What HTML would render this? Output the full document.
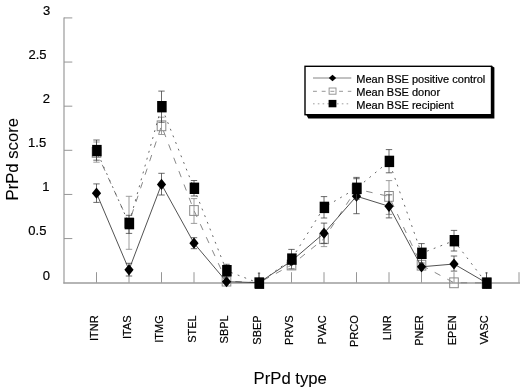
<!DOCTYPE html>
<html><head><meta charset="utf-8"><title>PrPd score by PrPd type</title>
<style>html,body{margin:0;padding:0;background:#fff}svg{display:block}text{font-family:"Liberation Sans",Arial,sans-serif;fill:#000;stroke:#000;stroke-width:.2px}.t{stroke-width:.08px}</style></head><body>
<svg width="520" height="388" viewBox="0 0 520 388">
<rect width="520" height="388" fill="#fff"/>
<g stroke="#969696" stroke-width="1.3" fill="none">
<line x1="64.0" y1="17.4" x2="64.0" y2="283.59999999999997" stroke-width="1.2" stroke="#9a9a9a"/>
<line x1="63.4" y1="283.0" x2="520" y2="283.0" stroke-width="1.5" stroke="#9c9c9c"/>
</g>
<g stroke="#969696" stroke-width="1" fill="none">
<line x1="64.0" y1="238.57" x2="72.3" y2="238.57"/>
<line x1="64.0" y1="194.44" x2="72.3" y2="194.44"/>
<line x1="64.0" y1="150.31" x2="72.3" y2="150.31"/>
<line x1="64.0" y1="106.18" x2="72.3" y2="106.18"/>
<line x1="64.0" y1="62.05" x2="72.3" y2="62.05"/>
<line x1="64.0" y1="17.92" x2="72.3" y2="17.92"/>
<line x1="96.50" y1="272.2" x2="96.50" y2="282.7"/>
<line x1="129.00" y1="272.2" x2="129.00" y2="282.7"/>
<line x1="161.50" y1="272.2" x2="161.50" y2="282.7"/>
<line x1="194.00" y1="272.2" x2="194.00" y2="282.7"/>
<line x1="226.50" y1="272.2" x2="226.50" y2="282.7"/>
<line x1="259.00" y1="272.2" x2="259.00" y2="282.7"/>
<line x1="291.50" y1="272.2" x2="291.50" y2="282.7"/>
<line x1="324.00" y1="272.2" x2="324.00" y2="282.7"/>
<line x1="356.50" y1="272.2" x2="356.50" y2="282.7"/>
<line x1="389.00" y1="272.2" x2="389.00" y2="282.7"/>
<line x1="421.50" y1="272.2" x2="421.50" y2="282.7"/>
<line x1="454.00" y1="272.2" x2="454.00" y2="282.7"/>
<line x1="486.50" y1="272.2" x2="486.50" y2="282.7"/>
<line x1="519.00" y1="272.2" x2="519.00" y2="282.7"/>
</g>
<g font-size="13" text-anchor="end">
<text x="50.2" y="14.7">3</text>
<text x="46.6" y="58.9">2.5</text>
<text x="50.0" y="102.8">2</text>
<text x="46.2" y="147.0">1.5</text>
<text x="49.5" y="191.2">1</text>
<text x="46.4" y="235.3">0.5</text>
<text x="50.0" y="279.5">0</text>
</g>
<text class="t" font-size="16.7" text-anchor="middle" transform="translate(17.9,159.2) rotate(-90)">PrPd score</text>
<text class="t" font-size="16.7" x="253.6" y="384.3">PrPd type</text>
<g font-size="11" text-anchor="end">
<text transform="translate(98.00,315.3) rotate(-90)">ITNR</text>
<text transform="translate(130.50,315.3) rotate(-90)">ITAS</text>
<text transform="translate(163.00,315.3) rotate(-90)">ITMG</text>
<text transform="translate(195.50,315.3) rotate(-90)">STEL</text>
<text transform="translate(228.00,315.3) rotate(-90)">SBPL</text>
<text transform="translate(260.50,315.3) rotate(-90)">SBEP</text>
<text transform="translate(293.00,315.3) rotate(-90)">PRVS</text>
<text transform="translate(325.50,315.3) rotate(-90)">PVAC</text>
<text transform="translate(358.00,315.3) rotate(-90)">PRCO</text>
<text transform="translate(390.50,315.3) rotate(-90)">LINR</text>
<text transform="translate(423.00,315.3) rotate(-90)">PNER</text>
<text transform="translate(455.50,315.3) rotate(-90)">EPEN</text>
<text transform="translate(488.00,315.3) rotate(-90)">VASC</text>
</g>
<g stroke="#8c8c8c" stroke-width="0.85" fill="none">
<path d="M96.50 142.00V162.20M93.30 142.00H99.70M93.30 162.20H99.70"/>
<path d="M129.00 196.30V249.30M125.80 196.30H132.20M125.80 249.30H132.20"/>
<path d="M161.50 117.20V134.50M158.30 117.20H164.70M158.30 134.50H164.70"/>
<path d="M194.00 198.60V223.40M190.80 198.60H197.20M190.80 223.40H197.20"/>
<path d="M324.00 231.00V246.60M320.80 231.00H327.20M320.80 246.60H327.20"/>
<path d="M389.00 180.60V214.40M385.80 180.60H392.20M385.80 214.40H392.20"/>
</g>
<polyline points="96.50,152.40 129.00,222.80 161.50,125.80 194.00,210.50 226.50,281.10 259.00,282.70 291.50,265.00 324.00,238.70 356.50,189.10 389.00,196.40 421.50,265.20 454.00,282.80 486.50,282.90" fill="none" stroke="#7a7a7a" stroke-width="0.9" stroke-dasharray="6.5 7.81" stroke-dashoffset="0.6"/>
<g fill="none" stroke="#8a8a8a" stroke-width="1">
<rect x="92.20" y="147.50" width="8.6" height="9.8"/>
<rect x="124.70" y="217.90" width="8.6" height="9.8"/>
<rect x="157.20" y="120.90" width="8.6" height="9.8"/>
<rect x="189.70" y="205.60" width="8.6" height="9.8"/>
<rect x="222.20" y="276.20" width="8.6" height="9.8"/>
<rect x="254.70" y="277.80" width="8.6" height="9.8"/>
<rect x="287.20" y="260.10" width="8.6" height="9.8"/>
<rect x="319.70" y="233.80" width="8.6" height="9.8"/>
<rect x="352.20" y="184.20" width="8.6" height="9.8"/>
<rect x="384.70" y="191.50" width="8.6" height="9.8"/>
<rect x="417.20" y="260.30" width="8.6" height="9.8"/>
<rect x="449.70" y="277.90" width="8.6" height="9.8"/>
<rect x="482.20" y="278.00" width="8.6" height="9.8"/>
</g>
<g stroke="#3a3a3a" stroke-width="0.75" fill="none">
<path d="M96.50 183.90V202.40M93.30 183.90H99.70M93.30 202.40H99.70"/>
<path d="M129.00 263.30V276.00M125.80 263.30H132.20M125.80 276.00H132.20"/>
<path d="M161.50 173.30V195.00M158.30 173.30H164.70M158.30 195.00H164.70"/>
<path d="M194.00 237.70V248.70M190.80 237.70H197.20M190.80 248.70H197.20"/>
<path d="M324.00 223.10V243.30M320.80 223.10H327.20M320.80 243.30H327.20"/>
<path d="M356.50 178.70V213.70M353.30 178.70H359.70M353.30 213.70H359.70"/>
<path d="M389.00 194.80V217.90M385.80 194.80H392.20M385.80 217.90H392.20"/>
<path d="M454.00 256.00V271.10M450.80 256.00H457.20M450.80 271.10H457.20"/>
</g>
<polyline points="96.50,193.20 129.00,269.80 161.50,184.40 194.00,243.20 226.50,281.70 259.00,282.70 291.50,261.00 324.00,233.20 356.50,196.20 389.00,206.30 421.50,266.80 454.00,264.00 486.50,282.90" fill="none" stroke="#333" stroke-width="0.85"/>
<g fill="#000">
<polygon points="96.50,187.60 101.10,193.20 96.50,198.80 91.90,193.20"/>
<polygon points="129.00,264.20 133.60,269.80 129.00,275.40 124.40,269.80"/>
<polygon points="161.50,178.80 166.10,184.40 161.50,190.00 156.90,184.40"/>
<polygon points="194.00,237.60 198.60,243.20 194.00,248.80 189.40,243.20"/>
<polygon points="226.50,276.10 231.10,281.70 226.50,287.30 221.90,281.70"/>
<polygon points="259.00,277.10 263.60,282.70 259.00,288.30 254.40,282.70"/>
<polygon points="291.50,255.40 296.10,261.00 291.50,266.60 286.90,261.00"/>
<polygon points="324.00,227.60 328.60,233.20 324.00,238.80 319.40,233.20"/>
<polygon points="356.50,190.60 361.10,196.20 356.50,201.80 351.90,196.20"/>
<polygon points="389.00,200.70 393.60,206.30 389.00,211.90 384.40,206.30"/>
<polygon points="421.50,261.20 426.10,266.80 421.50,272.40 416.90,266.80"/>
<polygon points="454.00,258.40 458.60,264.00 454.00,269.60 449.40,264.00"/>
<polygon points="486.50,277.30 491.10,282.90 486.50,288.50 481.90,282.90"/>
</g>
<g stroke="#3a3a3a" stroke-width="0.75" fill="none">
<path d="M96.50 140.00V160.20M93.30 140.00H99.70M93.30 160.20H99.70"/>
<path d="M129.00 215.30V233.40M125.80 215.30H132.20M125.80 233.40H132.20"/>
<path d="M161.50 91.10V122.30M158.30 91.10H164.70M158.30 122.30H164.70"/>
<path d="M194.00 180.50V196.00M190.80 180.50H197.20M190.80 196.00H197.20"/>
<path d="M226.50 264.30V277.00M223.30 264.30H229.70M223.30 277.00H229.70"/>
<path d="M259.00 273.20V283.20M257.80 273.20H260.20M257.80 283.20H260.20"/>
<path d="M291.50 249.40V268.80M288.30 249.40H294.70M288.30 268.80H294.70"/>
<path d="M324.00 196.60V218.00M320.80 196.60H327.20M320.80 218.00H327.20"/>
<path d="M356.50 177.40V199.20M353.30 177.40H359.70M353.30 199.20H359.70"/>
<path d="M389.00 149.60V172.80M385.80 149.60H392.20M385.80 172.80H392.20"/>
<path d="M421.50 243.60V263.00M418.30 243.60H424.70M418.30 263.00H424.70"/>
<path d="M454.00 230.40V251.00M450.80 230.40H457.20M450.80 251.00H457.20"/>
<path d="M486.50 272.90V283.20M485.30 272.90H487.70M485.30 283.20H487.70"/>
</g>
<polyline points="96.50,150.60 129.00,223.60 161.50,106.70 194.00,188.30 226.50,270.70 259.00,283.20 291.50,259.10 324.00,207.40 356.50,188.30 389.00,161.40 421.50,253.30 454.00,240.70 486.50,283.20" fill="none" stroke="#555" stroke-width="0.9" stroke-dasharray="1.9 5.255" stroke-dashoffset="3.9"/>
<g fill="#000">
<rect x="92.15" y="144.90" width="9.5" height="11.4"/>
<rect x="124.65" y="217.90" width="9.5" height="11.4"/>
<rect x="157.15" y="101.00" width="9.5" height="11.4"/>
<rect x="189.65" y="182.60" width="9.5" height="11.4"/>
<rect x="222.15" y="265.00" width="9.5" height="11.4"/>
<rect x="254.65" y="277.50" width="9.5" height="11.4"/>
<rect x="287.15" y="253.40" width="9.5" height="11.4"/>
<rect x="319.65" y="201.70" width="9.5" height="11.4"/>
<rect x="352.15" y="182.60" width="9.5" height="11.4"/>
<rect x="384.65" y="155.70" width="9.5" height="11.4"/>
<rect x="417.15" y="247.60" width="9.5" height="11.4"/>
<rect x="449.65" y="235.00" width="9.5" height="11.4"/>
<rect x="482.15" y="277.50" width="9.5" height="11.4"/>
</g>
<polygon points="306.3,114.7 308.3,118.4 494.4,118.4 494.4,67.6 491.5,65.8 491.5,114.7" fill="#000"/>
<rect x="305" y="66.3" width="186.5" height="48.4" fill="#fff" stroke="#000" stroke-width="1.4"/>
<line x1="313" y1="78" x2="351.3" y2="78" stroke="#777" stroke-width="0.9"/>
<polygon points="332.5,74.8 336.2,78 332.5,81.2 328.8,78" fill="#000"/>
<line x1="313" y1="91.3" x2="351.3" y2="91.3" stroke="#8a8a8a" stroke-width="0.9" stroke-dasharray="3.9 4.8"/>
<rect x="329.1" y="88.0" width="6.9" height="6.2" fill="none" stroke="#8a8a8a" stroke-width="0.9"/>
<line x1="313" y1="103.8" x2="351.3" y2="103.8" stroke="#888" stroke-width="0.8" stroke-dasharray="1.6 3.2"/>
<rect x="328.6" y="99.9" width="7.8" height="7.4" fill="#000"/>
<g font-size="11">
<text x="356.3" y="83.1">Mean BSE positive control</text>
<text x="356.3" y="96.2">Mean BSE donor</text>
<text x="356.3" y="108.8">Mean BSE recipient</text>
</g>
</svg></body></html>
